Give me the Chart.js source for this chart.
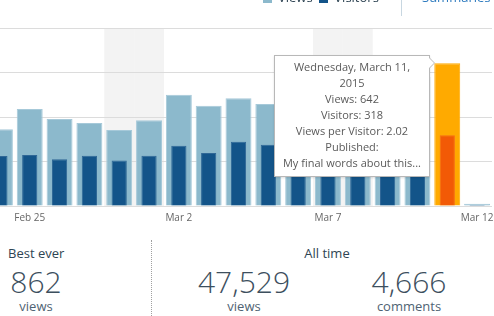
<!DOCTYPE html>
<html>
<head>
<meta charset="utf-8">
<script src="https://cdn.jsdelivr.net/npm/chart.js@4.4.1/dist/chart.umd.min.js"></script>
<style>
  html, body { margin:0; padding:0; width:494px; height:316px; overflow:hidden; background:#fff; font-family:"Open Sans", sans-serif; }
  #wrap { position:absolute; left:-15px; top:0; width:520px; height:230px; }
  .abs { position:absolute; white-space:nowrap; }
  #legend { position:absolute; top:-11px; left:263px; font-size:13px; color:#2e4453; line-height:16px; white-space:nowrap; }
  #legend .sq { display:inline-block; width:9px; height:9px; vertical-align:middle; margin-right:6px; }
  #sep { position:absolute; left:401px; top:0; width:1px; height:16px; background:#c8d7e1; }
  #summ { position:absolute; left:422px; top:-11px; font-size:13px; color:#2e7bbf; line-height:16px; white-space:nowrap; }
  #tip { position:absolute; left:274px; top:55px; width:154px; height:117px; background:#fff; border:1px solid #b8b8b8;
         box-shadow:0 1px 2px rgba(0,0,0,0.12); font-size:11px; line-height:16px; color:#5a5a5a; text-align:center; padding-top:3px; box-sizing:content-box; }
  #tip .arrow { position:absolute; right:-6px; top:1px; width:0; height:0; border-top:6px solid transparent; border-bottom:6px solid transparent; border-left:6px solid #b8b8b8; }
  #tip .arrow2 { position:absolute; right:-5px; top:2px; width:0; height:0; border-top:5px solid transparent; border-bottom:5px solid transparent; border-left:5px solid #fff; }
  .stat-h { font-size:13px; color:#2e4453; }
  .stat-n { font-size:30px; font-weight:300; color:#3d4f5e; line-height:34px; text-align:center; }
  .stat-l { font-size:13px; color:#4f6373; text-align:center; }
  #dots { position:absolute; left:151px; top:240px; height:76px; border-left:1px dotted #a0a0a0; }
</style>
</head>
<body>
<div id="wrap"><canvas id="c"></canvas></div>
<div id="legend"><span class="sq" style="background:#8cb9cc"></span>Views&nbsp;&nbsp;<span class="sq" style="background:#135489"></span>Visitors</div>
<div id="sep"></div>
<div id="summ">Summaries ›</div>
<div id="tip"><div class="arrow"></div><div class="arrow2"></div><div id="tiptext"></div></div>
<div id="dots"></div>
<div class="abs stat-h" style="left:8px; top:244px;">Best ever</div>
<div class="abs stat-n" style="left:0px; width:72px; top:265px;" id="best"></div>
<div class="abs stat-l" style="left:0px; width:72px; top:297px;">views</div>
<div class="abs stat-h" style="left:300px; width:54px; top:244px; text-align:center;">All time</div>
<div class="abs stat-n" style="left:184px; width:120px; top:265px;" id="allv"></div>
<div class="abs stat-l" style="left:184px; width:120px; top:297px;">views</div>
<div class="abs stat-n" style="left:349px; width:120px; top:265px;" id="allc"></div>
<div class="abs stat-l" style="left:349px; width:120px; top:297px;">comments</div>
<script>
const labels = ['Feb 24','Feb 25','Feb 26','Feb 27','Feb 28','Mar 1','Mar 2','Mar 3','Mar 4','Mar 5','Mar 6','Mar 7','Mar 8','Mar 9','Mar 10','Mar 11','Mar 12'];
const views =    [345, 436, 391, 373, 342, 385, 500, 451, 484, 458, 470, 400, 410, 480, 581, 642, 10];
const visitors = [225, 229, 210, 226, 205, 226, 271, 238, 289, 275, 285, 240, 245, 280, 300, 318, 4];
const weekendIdx = [4, 5, 11, 12];
const highlightIdx = 15;
const yTicks = [0, 200, 400, 600, 800];
const tickLabelIdx = [1, 6, 11, 16];
const tipTitle = ['Wednesday, March 11,', '2015'];
const tipPublished = 'My final words about this...';
const bestEver = 862, allTimeViews = 47529, allTimeComments = 4666;

document.getElementById('best').textContent = bestEver.toLocaleString('en-US');
document.getElementById('allv').textContent = allTimeViews.toLocaleString('en-US');
document.getElementById('allc').textContent = allTimeComments.toLocaleString('en-US');
const hv = views[highlightIdx], hu = visitors[highlightIdx];
document.getElementById('tiptext').innerHTML =
  tipTitle.join('<br>') + '<br>Views: ' + hv + '<br>Visitors: ' + hu +
  '<br>Views per Visitor: ' + (hv / hu).toFixed(2) + '<br>Published:<br>' + tipPublished;

const viewColors = views.map((v, i) => i === highlightIdx ? '#ffaa00' : '#8cb9cc');
const viewBorders = views.map((v, i) => i === highlightIdx ? '#ffaa00' : '#a6c9d9');
const visColors = visitors.map((v, i) => i === highlightIdx ? '#f25a06' : '#135489');
const visBorders = visitors.map((v, i) => i === highlightIdx ? '#f46a1a' : '#2f6796');

const weekendShade = {
  id: 'weekendShade',
  beforeDraw(chart) {
    const { ctx, chartArea, scales } = chart;
    const x = scales.x;
    const w = (chartArea.right - chartArea.left) / labels.length;
    ctx.save();
    ctx.fillStyle = '#f3f3f3';
    weekendIdx.forEach(i => {
      const cx = x.getPixelForValue(i);
      ctx.fillRect(cx - w / 2, chartArea.top, w, chartArea.bottom - chartArea.top);
    });
    ctx.restore();
  }
};

Chart.defaults.font.family = '"Open Sans", sans-serif';
new Chart(document.getElementById('c'), {
  type: 'bar',
  data: {
    labels: labels,
    datasets: [
      { label: 'Visitors', data: visitors, backgroundColor: visColors, borderColor: visBorders, borderWidth: 1,
        grouped: false, barPercentage: 0.51, categoryPercentage: 1, order: 0 },
      { label: 'Views', data: views, backgroundColor: viewColors, borderColor: viewBorders, borderWidth: 1,
        grouped: false, barPercentage: 0.87, categoryPercentage: 1, order: 1 }
    ]
  },
  options: {
    responsive: true,
    maintainAspectRatio: false,
    animation: false,
    layout: { padding: { left: 0, right: 13, top: 28, bottom: 0 } },
    plugins: { legend: { display: false }, tooltip: { enabled: false } },
    scales: {
      x: {
        offset: true,
        grid: { display: false, drawTicks: false },
        border: { display: false },
        ticks: {
          autoSkip: false, maxRotation: 0, padding: 6, color: '#666', font: { size: 10 },
          callback: (v, i) => tickLabelIdx.includes(i) ? labels[i] : ''
        }
      },
      y: {
        min: 0, max: 800,
        afterBuildTicks: (s) => { s.ticks = yTicks.map(v => ({ value: v })); },
        grid: { color: '#dcdcdc', drawTicks: false },
        border: { display: false },
        ticks: { display: false }
      }
    }
  },
  plugins: [weekendShade]
});
</script>
</body>
</html>
